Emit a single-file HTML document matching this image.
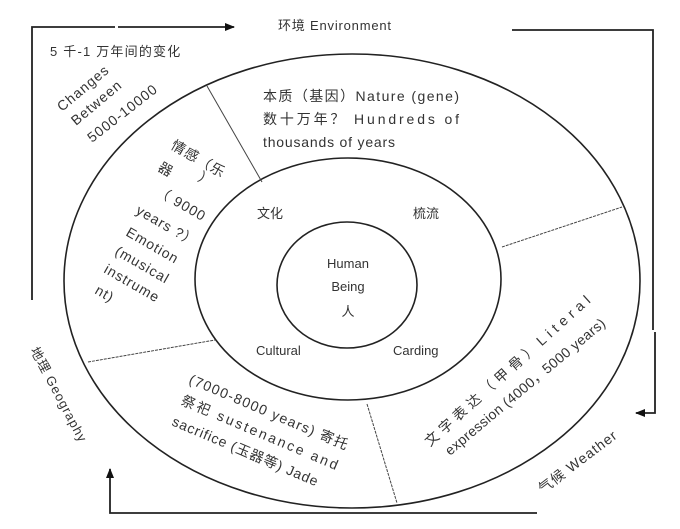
<!DOCTYPE html>
<html><head><meta charset="utf-8"><style>
html,body{margin:0;padding:0;background:#fff;}
svg{display:block;}
text{font-family:"Liberation Sans","Noto Sans CJK SC",sans-serif;fill:#333;font-size:13px;}
.w{font-size:14px;letter-spacing:1px;}
</style></head><body>
<svg width="680" height="529" viewBox="0 0 680 529" xmlns="http://www.w3.org/2000/svg">
<defs><marker id="a" markerWidth="10" markerHeight="8" refX="9" refY="4" orient="auto" markerUnits="userSpaceOnUse"><path d="M0,0 L10,4 L0,8 Z" fill="#111"/></marker></defs>
<g fill="none" stroke="#222" stroke-width="1.6">
<ellipse cx="352" cy="281" rx="288" ry="227"/>
<ellipse cx="348" cy="279" rx="153" ry="121"/>
<ellipse cx="347" cy="285" rx="70" ry="63"/>
</g>
<g stroke="#444" stroke-width="1">
<line x1="207" y1="86" x2="262" y2="182"/>
<line x1="502" y1="247" x2="622" y2="207" stroke-dasharray="3,1"/>
<line x1="367" y1="404" x2="397" y2="503" stroke-dasharray="3,1"/>
<line x1="88" y1="362" x2="215" y2="340" stroke-dasharray="3,1"/>
</g>
<g fill="none" stroke="#222" stroke-width="1.8">
<polyline points="32,300 32,27 115,27"/>
<polyline points="118,27 234,27" marker-end="url(#a)"/>
<polyline points="512,30 653,30 653,330"/>
<polyline points="655,332 655,413 636,413" marker-end="url(#a)"/>
<polyline points="537,513 110,513 110,469" marker-end="url(#a)"/>
</g>
<text x="278" y="30" font-size="14" letter-spacing="0.8">环境 Environment</text>
<text x="50" y="56" font-size="14" letter-spacing="1.2">5 千-1 万年间的变化</text>
<text x="263" y="101" class="w" textLength="197">本质（基因）Nature (gene)</text>
<text x="263" y="124" class="w" textLength="197">数十万年？ Hundreds of</text>
<text x="263" y="147" class="w" textLength="133">thousands of years</text>
<text x="257" y="218" font-size="14">文化</text>
<text x="413" y="218" font-size="14">梳流</text>
<text x="348" y="268" text-anchor="middle">Human</text>
<text x="348" y="291" text-anchor="middle">Being</text>
<text x="348" y="316" text-anchor="middle" font-size="14">人</text>
<text x="256" y="355" font-size="14">Cultural</text>
<text x="393" y="355" font-size="14">Carding</text>
<text transform="translate(62,112) rotate(-40)" class="w">Changes</text>
<text transform="translate(76,126) rotate(-40)" class="w">Between</text>
<text transform="translate(92,143) rotate(-38)" class="w">5000-10000</text>
<text transform="translate(170,148) rotate(30)" class="w">情感（乐</text>
<text transform="translate(157,170) rotate(30)" class="w">器</text>
<text transform="translate(197,180) rotate(30)" class="w">）</text>
<text transform="translate(155,194) rotate(30)" class="w">（ 9000</text>
<text transform="translate(135,213) rotate(30)" class="w">years ?）</text>
<text transform="translate(125,235) rotate(30)" class="w">Emotion</text>
<text transform="translate(114,254) rotate(30)" class="w">(musical</text>
<text transform="translate(103,272) rotate(30)" class="w">instrume</text>
<text transform="translate(94,293) rotate(30)" class="w">nt)</text>
<text transform="translate(188,383) rotate(23)" class="w" textLength="172">(7000-8000 years) 寄托</text>
<text transform="translate(180,404) rotate(23)" class="w" textLength="170">祭祀   sustenance   and</text>
<text transform="translate(171,425) rotate(23)" class="w" textLength="158">sacrifice (玉器等) Jade</text>
<text transform="translate(430,447) rotate(-42)" class="w" textLength="218">文字表达（甲骨）Literal</text>
<text transform="translate(450,456) rotate(-40)" class="w" textLength="205">expression (4000，5000 years)</text>
<text transform="translate(543,494) rotate(-37)" class="w">气候 Weather</text>
<text transform="translate(30,350) rotate(62)" font-size="14" letter-spacing="1">地理 Geography</text>
</svg>
</body></html>
